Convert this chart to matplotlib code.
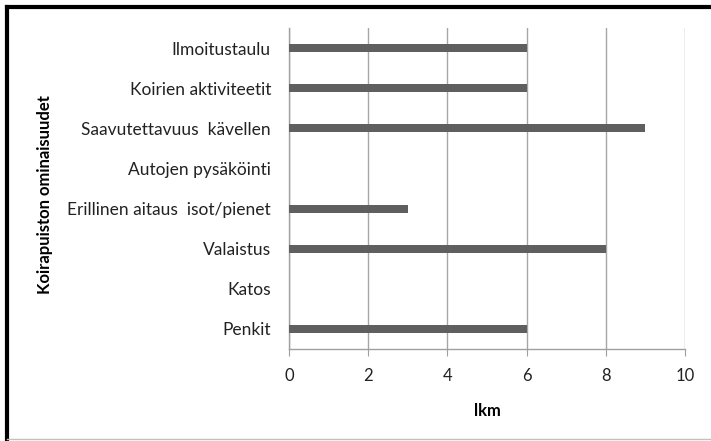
import matplotlib.pyplot as plt
from matplotlib.lines import Line2D

plt.rcParams['font.family'] = ['Lato', 'DejaVu Sans']

# data (top to bottom as in the chart)
categories = ['Ilmoitustaulu', 'Koirien aktiviteetit', 'Saavutettavuus  kävellen',
              'Autojen pysäköinti', 'Erillinen aitaus  isot/pienet', 'Valaistus',
              'Katos', 'Penkit']
counts = [6, 6, 9, 0, 3, 8, 0, 6]
x_ticks = [0, 2, 4, 6, 8, 10]

fig = plt.figure(figsize=(7.11, 4.41), dpi=100)
ax = fig.add_axes([289 / 711, 1 - 349 / 441, (685 - 289) / 711, (349 - 28) / 441])

ypos = list(range(len(categories)))[::-1]
ax.barh(ypos, counts, height=0.2, color='#5f5f5f', zorder=3)

ax.set_xlim(0, 10)
ax.set_ylim(-0.5, len(categories) - 0.5)
ax.set_xticks(x_ticks)
ax.set_xticklabels([str(t) for t in x_ticks], fontsize=12, color='#222222')
ax.set_yticks(ypos)
ax.set_yticklabels(categories, fontsize=12.5, color='#222222')

ax.grid(True, axis='x', color='#a6a6a6', linewidth=1.0, zorder=0)
for side in ['top', 'right']:
    ax.spines[side].set_visible(False)
for side in ['left', 'bottom']:
    ax.spines[side].set_color('#a0a0a0')
    ax.spines[side].set_linewidth(1.0)
ax.tick_params(axis='y', length=0, pad=13)
ax.tick_params(axis='x', direction='out', length=5, color='#a0a0a0', pad=9)

ax.set_xlabel('lkm', fontsize=12, fontweight='bold', labelpad=13)
fig.text(45 / 711, 1 - 195 / 441, 'Koirapuiston ominaisuudet', rotation=90,
         fontsize=12, fontweight='bold', ha='center', va='center')

# chart frame
fig.add_artist(Line2D([7 / 711, 7 / 711], [0, 1 - 7 / 441], transform=fig.transFigure,
                      color='black', linewidth=3))
fig.add_artist(Line2D([7 / 711, 1], [1 - 7 / 441, 1 - 7 / 441], transform=fig.transFigure,
                      color='black', linewidth=3))
fig.add_artist(Line2D([7 / 711, 1], [2 / 441, 2 / 441], transform=fig.transFigure,
                      color='#c0c0c0', linewidth=1))

fig.savefig('out.png', dpi=100, facecolor='white')
